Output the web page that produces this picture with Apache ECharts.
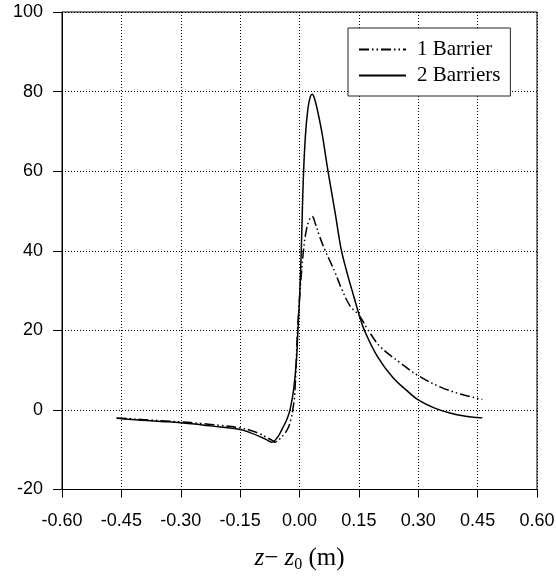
<!DOCTYPE html>
<html>
<head>
<meta charset="utf-8">
<script src="https://cdn.jsdelivr.net/npm/echarts@6/dist/echarts.min.js"></script>
<style>
html,body{margin:0;padding:0;background:#fff;}
#chart{width:556px;height:576px;}
</style>
</head>
<body>
<div id="chart"></div>
<script>
// ---- data ----
var seriesNames = ['1 Barrier', '2 Barriers'];

var barrier1X = [-0.462, -0.45, -0.40, -0.35, -0.30, -0.25, -0.20, -0.15, -0.125, -0.10, -0.085, -0.07, -0.062, -0.05, -0.04, -0.030, -0.022, -0.017, -0.012, -0.005, 0.000, 0.005, 0.010, 0.016, 0.024, 0.032, 0.040, 0.050, 0.065, 0.078, 0.09, 0.107, 0.128, 0.151, 0.174, 0.204, 0.255, 0.30, 0.355, 0.406, 0.45, 0.462];
var barrier1Y = [-2.0, -2.1, -2.4, -2.7, -3.0, -3.4, -3.9, -4.5, -5.1, -6.0, -6.8, -7.6, -8.1, -7.3, -6.2, -4.8, -2.5, 0.0, 4.0, 20.0, 28.0, 34.5, 40.0, 44.5, 47.6, 48.6, 46.8, 43.8, 40.0, 37.2, 34.5, 30.3, 26.1, 23.7, 20.0, 15.9, 11.8, 8.6, 5.8, 4.0, 2.9, 2.6];

var barrier2X = [-0.462, -0.45, -0.40, -0.35, -0.30, -0.25, -0.20, -0.15, -0.125, -0.10, -0.085, -0.07, -0.055, -0.045, -0.032, -0.024, -0.015, -0.008, -0.004, 0.001, 0.005, 0.0096, 0.015, 0.021, 0.027, 0.032, 0.038, 0.046, 0.057, 0.072, 0.090, 0.105, 0.120, 0.132, 0.151, 0.164, 0.197, 0.237, 0.272, 0.30, 0.34, 0.38, 0.42, 0.45, 0.462];
var barrier2Y = [-2.1, -2.2, -2.6, -2.9, -3.2, -3.7, -4.3, -4.9, -5.7, -6.7, -7.4, -8.1, -6.8, -5.0, -2.4, 0.0, 5.0, 12.0, 20.0, 30.0, 42.0, 58.0, 69.0, 75.5, 78.6, 79.3, 78.2, 75.0, 69.5, 60.0, 49.6, 40.5, 34.5, 30.3, 23.8, 20.0, 13.4, 8.0, 4.8, 2.5, 0.5, -0.8, -1.6, -1.9, -2.0];

var xTicks = [-0.60, -0.45, -0.30, -0.15, 0.00, 0.15, 0.30, 0.45, 0.60];
var yTicks = [-20, 0, 20, 40, 60, 80, 100];

function pairs(xs, ys) { return xs.map(function (x, i) { return [x, ys[i]]; }); }

var chart = echarts.init(document.getElementById('chart'), null, {renderer: 'canvas'});
var sans = 'Liberation Sans, Arial, Helvetica, sans-serif';
var serif = 'Liberation Serif, Times New Roman, serif';

var option = {
  animation: false,
  backgroundColor: '#fff',
  grid: {
    left: 62, right: 19, top: 12, bottom: 86.5,
    containLabel: false,
    outerBoundsMode: 'none',
    show: true, borderColor: '#000', borderWidth: 1, backgroundColor: 'transparent'
  },
  legend: {
    orient: 'vertical',
    left: 348, top: 28,
    padding: [11, 10, 10, 10],
    itemGap: 5,
    itemWidth: 47,
    itemHeight: 18,
    backgroundColor: '#fff',
    borderColor: '#222',
    borderWidth: 1,
    itemStyle: {opacity: 0, borderWidth: 0},
    textStyle: {fontFamily: serif, fontSize: 21, color: '#000', padding: [0, 0, 0, 6]},
    data: seriesNames
  },
  xAxis: {
    type: 'value',
    min: xTicks[0], max: xTicks[xTicks.length - 1], interval: 0.15,
    axisLine: {show: true, onZero: false, lineStyle: {color: '#000', width: 1}},
    axisTick: {show: true, length: 8, lineStyle: {color: '#000'}},
    axisLabel: {
      margin: 23, fontFamily: sans, fontSize: 18, color: '#000',
      formatter: function (v) { return v.toFixed(2); }
    },
    splitLine: {show: true, lineStyle: {color: '#000', width: 1, type: [1, 2]}},
    name: '{i|z}{n|−}{i| z}{s|0}{n| (m)}',
    nameLocation: 'middle',
    nameGap: 54,
    nameTextStyle: {
      rich: {
        i: {fontFamily: serif, fontStyle: 'italic', fontSize: 25, color: '#000'},
        n: {fontFamily: serif, fontSize: 25, color: '#000'},
        s: {fontFamily: serif, fontSize: 16, color: '#000', padding: [13, 0, 0, 0]}
      }
    }
  },
  yAxis: {
    type: 'value',
    min: yTicks[0], max: yTicks[yTicks.length - 1], interval: 20,
    axisLine: {show: true, onZero: false, lineStyle: {color: '#000', width: 1}},
    axisTick: {show: true, length: 9, lineStyle: {color: '#000'}},
    axisLabel: {margin: 19, fontFamily: sans, fontSize: 18, color: '#000'},
    splitLine: {show: true, lineStyle: {color: '#000', width: 1, type: [1, 2]}}
  },
  series: [
    {
      name: seriesNames[0], type: 'line', data: pairs(barrier1X, barrier1Y),
      showSymbol: false, symbol: 'none', smooth: 0.4, z: 3,
      lineStyle: {color: '#000', width: 1.5, type: [10, 3, 1.5, 3, 1.5, 3]},
      itemStyle: {color: '#000'}
    },
    {
      name: seriesNames[1], type: 'line', data: pairs(barrier2X, barrier2Y),
      showSymbol: false, symbol: 'none', smooth: 0.4, z: 3,
      lineStyle: {color: '#000', width: 1.5, type: 'solid'},
      itemStyle: {color: '#000'}
    }
  ]
};
chart.setOption(option);
</script>
</body>
</html>
